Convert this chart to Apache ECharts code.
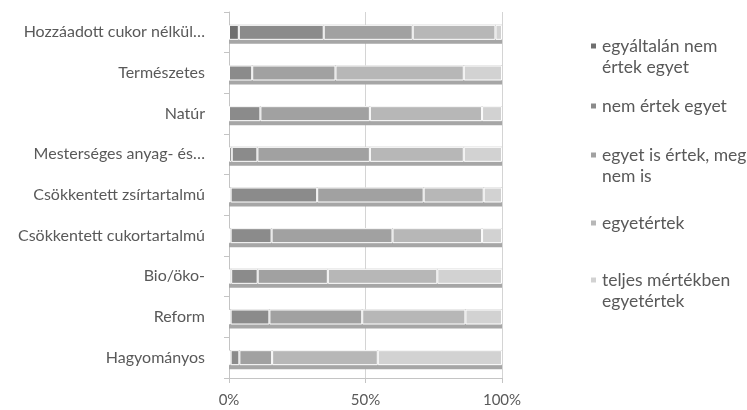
<!DOCTYPE html>
<html>
<head>
<meta charset="utf-8">
<script src="https://cdn.jsdelivr.net/npm/echarts@6/dist/echarts.min.js"></script>
<style>
  html, body { margin: 0; padding: 0; background: #fff; }
  #chart { width: 747px; height: 410px; }
</style>
</head>
<body>
<div id="chart"></div>
<script>
// Product label claims, listed top to bottom
const categories = [
  'Hozzáadott cukor nélkül…',
  'Természetes',
  'Natúr',
  'Mesterséges anyag- és…',
  'Csökkentett zsírtartalmú',
  'Csökkentett cukortartalmú',
  'Bio/öko-',
  'Reform',
  'Hagyományos'
];

// Likert answer levels (legend order)
const seriesNames = [
  'egyáltalán nem\nértek egyet',
  'nem értek egyet',
  'egyet is értek, meg\nnem is',
  'egyetértek',
  'teljes mértékben\negyetértek'
];

// Share of answers per claim, percent
const stronglyDisagree = [3.6, 0.0, 0.0, 1.0, 0.6, 0.6, 0.8, 0.6, 0.6];
const disagree         = [31.1, 8.5, 11.5, 9.4, 31.7, 15.0, 9.7, 14.2, 3.2];
const neutral          = [32.6, 30.5, 40.1, 41.2, 39.0, 44.3, 25.7, 34.0, 12.0];
const agree            = [30.3, 47.0, 41.1, 34.4, 22.0, 32.8, 40.1, 37.8, 38.7];
const stronglyAgree    = [2.4, 14.0, 7.3, 14.0, 6.7, 7.3, 23.7, 13.4, 45.5];

const xTicks = [0, 50, 100];

const seriesValues = [stronglyDisagree, disagree, neutral, agree, stronglyAgree];
const colors = ['#6f6f6f', '#8b8b8b', '#a1a1a1', '#b7b7b7', '#d2d2d2'];

// row totals: a plain bar under each stack that casts the floor shadow
const rowTotals = categories.map((_, r) =>
  seriesValues.reduce((sum, arr) => sum + arr[r], 0));

const FONT = 'Lato';
const TEXT = '#595959';
const LH = 21;
const LEGEND_SIZE = 17.5;

// legend marker centre heights
const legendY = [46, 106, 155, 223, 280];

// square marker pinned to the first text line of a two-line entry
const topSquare = 'path://M0,0L7,0L7,7L0,7ZM0,' + (LH + 7);

const legends = seriesNames.map((name, i) => {
  const twoLine = name.indexOf('\n') >= 0;
  return {
    left: 589,
    top: legendY[i] - LH / 2,
    orient: 'vertical',
    padding: 0,
    itemWidth: 7,
    itemHeight: twoLine ? LH + 7 : 7,
    itemGap: 0,
    icon: twoLine ? topSquare : 'rect',
    selectedMode: false,
    data: [name],
    textStyle: {
      fontFamily: FONT,
      fontSize: LEGEND_SIZE,
      color: TEXT,
      lineHeight: LH
    }
  };
});

const chart = echarts.init(document.getElementById('chart'), null, { renderer: 'canvas' });

const stackSeries = seriesNames.map((name, i) => ({
  name: name,
  type: 'bar',
  stack: 'total',
  barWidth: 15,
  data: seriesValues[i],
  itemStyle: {
    color: colors[i],
    borderColor: '#ffffff',
    borderWidth: 1
  }
}));

chart.setOption({
  animation: false,
  color: colors,
  legend: legends,
  grid: { left: 229, right: 245, top: 12, bottom: 32, containLabel: false },
  xAxis: {
    type: 'value',
    min: xTicks[0],
    max: xTicks[xTicks.length - 1],
    interval: xTicks[1] - xTicks[0],
    axisLine: { show: true, lineStyle: { color: '#c4c4c4', width: 1 } },
    axisTick: { show: true, length: 5, lineStyle: { color: '#c4c4c4' } },
    splitLine: { show: true, lineStyle: { color: '#d4d4d4', width: 1 } },
    axisLabel: {
      formatter: '{value}%',
      fontFamily: FONT,
      fontSize: 15,
      color: TEXT,
      margin: 15
    }
  },
  yAxis: {
    type: 'category',
    inverse: true,
    data: categories,
    axisLine: { show: true, lineStyle: { color: '#c4c4c4', width: 1 } },
    axisTick: { show: true, length: 5, lineStyle: { color: '#c4c4c4' } },
    axisLabel: {
      fontFamily: FONT,
      fontSize: 16,
      color: TEXT,
      margin: 24
    }
  },
  series: [{
    name: 'floor',
    type: 'bar',
    barWidth: 15,
    barGap: '-100%',
    silent: true,
    data: rowTotals,
    itemStyle: {
      color: '#ababab',
      shadowColor: '#a6a6a6',
      shadowOffsetY: 4,
      shadowBlur: 0
    }
  }].concat(stackSeries)
});
</script>
</body>
</html>
